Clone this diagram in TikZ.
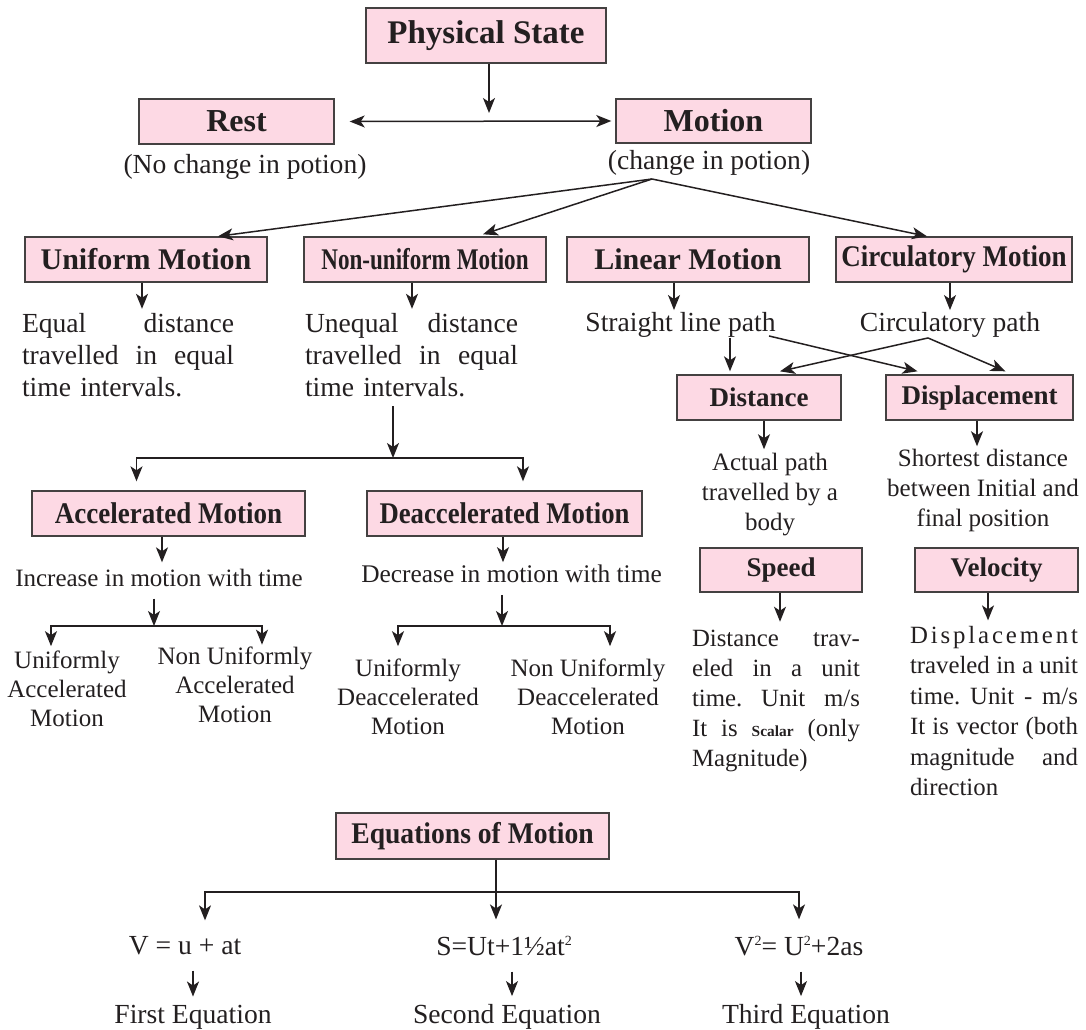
\documentclass[tikz,border=0pt]{standalone}
\usepackage{fontspec}
\setmainfont{Liberation Serif}
\usepackage{graphicx}
\usetikzlibrary{arrows.meta}
\definecolor{boxpink}{HTML}{FDD9E4}
\definecolor{ink}{HTML}{231F20}
\setlength{\parindent}{0pt}
\frenchspacing
\newcommand{\jl}[2]{\makebox[#1][s]{\spaceskip=0pt\xspaceskip=0pt #2}}
\newcommand{\nx}[2]{\scalebox{#1}[1]{#2}}
\newcommand{\fs}[2]{\fontsize{#1}{#2}\selectfont}
\newcommand{\sq}{\raisebox{0.85ex}{\fs{7}{8}2}}

\begin{document}
\begin{tikzpicture}[x=0.5pt,y=-0.5pt,
  box/.style={draw=ink!85, fill=boxpink, line width=0.7pt, inner sep=0pt, text=ink, font=\bfseries\fs{15}{18}},
  txt/.style={inner sep=0pt, text=ink, font=\fs{13.8}{16}},
  sml/.style={inner sep=0pt, text=ink, align=center, font=\fs{12.5}{15}},
  arr/.style={draw=ink, line width=0.75pt, -{Stealth[length=7.5pt,width=6pt,inset=2pt]}},
  darr/.style={draw=ink, line width=0.75pt, {Stealth[length=7.5pt,width=6pt,inset=2pt]}-{Stealth[length=7.5pt,width=6pt,inset=2pt]}}]

\useasboundingbox (0,0) rectangle (1086,1029);

\node[box, minimum width=120pt, minimum height=27.5pt, font=\bfseries\fs{16.5}{20}] (phys) at (486,35.5) {Physical State};
\node[box, minimum width=97.5pt, minimum height=22.5pt, font=\bfseries\fs{16}{19}] (rest) at (236.5,121.5) {Rest};
\node[box, minimum width=97.5pt, minimum height=22pt, font=\bfseries\fs{16}{19}] (motion) at (713.5,121) {Motion};
\node[txt] (restcap) at (245,167) {(No change in potion)};
\node[txt] (motcap) at (709,163) {(change in potion)};

\node[box, minimum width=121pt, minimum height=22.5pt] (unif) at (146,259.5) {Uniform Motion};
\node[box, minimum width=121pt, minimum height=22.5pt] (nonunif) at (425,259.5) {\nx{0.77}{Non-uniform Motion}};
\node[box, minimum width=121pt, minimum height=22.5pt] (linear) at (688,259.5) {Linear Motion};
\node[box, minimum width=118pt, minimum height=22.5pt] (circ) at (954,259.5) {\nx{0.9}{Circulatory Motion}};

\node[txt, text width=106pt, align=left] (eqtxt) at (128,355) {\jl{106pt}{Equal distance}\\\jl{106pt}{travelled in equal}\\time intervals.};
\node[txt, text width=106.5pt, align=left] (untxt) at (411.5,355) {\jl{106.5pt}{Unequal distance}\\\jl{106.5pt}{travelled in equal}\\time intervals.};
\node[txt] (strtxt) at (680.5,325) {Straight line path};
\node[txt] (circtxt) at (950,325) {Circulatory path};

\node[box, minimum width=82pt, minimum height=22.5pt, font=\bfseries\fs{13.5}{16}] (dist) at (759,397.5) {Distance};
\node[box, minimum width=93.5pt, minimum height=22.5pt, font=\bfseries\fs{13.5}{16}] (displ) at (979.5,397.5) {Displacement};
\node[sml] (disttxt) at (770,495) {Actual path\\travelled by a\\body};
\node[sml] (displtxt) at (983,490) {Shortest distance\\between Initial and\\final position};

\node[box, minimum width=81pt, minimum height=22pt, font=\bfseries\fs{13.5}{16}] (speed) at (781,570) {Speed};
\node[box, minimum width=81.5pt, minimum height=22pt, font=\bfseries\fs{13.5}{16}] (vel) at (996.5,570) {Velocity};
\node[sml, text width=84pt, align=left, font=\fs{12.4}{15}] (spdtxt) at (776,700.5) {\jl{84pt}{Distance trav-}\\\jl{84pt}{eled in a unit}\\\jl{84pt}{time. Unit m/s}\\\jl{84pt}{It is {\fs{7.7}{9}\bfseries Scalar} (only}\\Magnitude)};
\node[sml, text width=84pt, align=left, font=\fs{12.4}{15.2}] (veltxt) at (994,711) {\jl{84pt}{D\hfill i\hfill s\hfill p\hfill l\hfill a\hfill c\hfill e\hfill m\hfill e\hfill n\hfill t}\\\jl{84pt}{traveled in a unit}\\\jl{84pt}{time. Unit - m/s}\\\jl{84pt}{It is vector (both}\\\jl{84pt}{magnitude and}\\direction};

\node[box, minimum width=136.5pt, minimum height=22.5pt] (acc) at (168.5,513.5) {\nx{0.9}{Accelerated Motion}};
\node[box, minimum width=137.5pt, minimum height=22.5pt] (deacc) at (504.5,513.5) {\nx{0.89}{Deaccelerated Motion}};
\node[sml] (inctxt) at (159,577.5) {Increase in motion with time};
\node[sml, font=\fs{12.7}{15}] (dectxt) at (511.5,573.5) {Decrease in motion with time};
\node[sml, font=\fs{12.5}{14.5}] (ua) at (67,688.5) {Uniformly\\Accelerated\\Motion};
\node[sml, font=\fs{12.5}{14.5}] (nua) at (235,685) {Non Uniformly\\Accelerated\\Motion};
\node[sml, font=\fs{12.5}{14.5}] (ud) at (408,696.5) {Uniformly\\Deaccelerated\\Motion};
\node[sml, font=\fs{12.5}{14.5}] (nud) at (588,696.5) {Non Uniformly\\Deaccelerated\\Motion};

\node[box, minimum width=136.5pt, minimum height=23pt] (eqn) at (472.5,836) {\nx{0.92}{Equations of Motion}};
\node[txt] (eq1) at (185,946) {V = u + at};
\node[txt] (eq2) at (504,946) {S=Ut+1½at\sq};
\node[txt] (eq3) at (799,946) {V\sq= U\sq+2as};
\node[txt] (n1) at (193,1017) {First Equation};
\node[txt] (n2) at (507,1017) {Second Equation};
\node[txt] (n3) at (806,1017) {Third Equation};

\coordinate (hub) at (489,113);
\coordinate (fan) at (652,179);
\coordinate (split) at (393,458);
\coordinate (accsplit) at (154,626);
\coordinate (decsplit) at (502,626);
\coordinate (eqsplit) at (496,892);

\draw[arr] (phys.south -| hub) -- (hub);
\draw[darr] ([xshift=7.5pt]rest.east) -- ([xshift=-2pt]motion.west);
\draw[arr] (fan) -- ([xshift=36pt]unif.north);
\draw[arr] (fan) -- ([xshift=29pt,yshift=1pt]nonunif.north);
\draw[arr] (fan) -- ([xshift=-13.5pt]circ.north);

\draw[arr] ([xshift=-2pt]unif.south) -- ([xshift=-2pt,yshift=2pt]unif.south |- eqtxt.north);
\draw[arr] ([xshift=-6.5pt]nonunif.south) -- ([xshift=-6.5pt,yshift=2pt]nonunif.south |- untxt.north);
\draw[arr] ([xshift=-7pt]linear.south) -- ([xshift=-7pt,yshift=1pt]linear.south |- strtxt.north);
\draw[arr] ([xshift=-2pt]circ.south) -- ([xshift=-2pt,yshift=1pt]circ.south |- circtxt.north);

\draw[arr] ([xshift=-14.5pt]dist.north |- strtxt.south) -- ([xshift=-14.5pt,yshift=1.5pt]dist.north);
\draw[arr] ([xshift=-3.5pt,yshift=1pt]strtxt.south east) -- ([xshift=-31pt,yshift=1.5pt]displ.north);
\draw[arr] ([xshift=-11pt]circtxt.south) -- ([xshift=10.5pt,yshift=1.5pt]dist.north);
\draw[arr] ([xshift=-11pt]circtxt.south) -- ([xshift=13pt,yshift=1.5pt]displ.north);

\draw[arr] ([xshift=2.5pt]dist.south) -- ([xshift=2.5pt,yshift=2pt]dist.south |- disttxt.north);
\draw[arr] ([xshift=-1.25pt]displ.south) -- ([xshift=-1.25pt,yshift=1pt]displ.south |- displtxt.north);
\draw[arr] ([xshift=-0.5pt]speed.south) -- ([xshift=-0.5pt,yshift=3.75pt]speed.south |- spdtxt.north);
\draw[arr] ([xshift=-4.25pt]vel.south) -- ([xshift=-4.25pt,yshift=2.75pt]vel.south |- veltxt.north);

\draw[arr] ([yshift=-4.5pt]untxt.south -| split) -- (split);
\draw[arr] (split) -| ([xshift=-16pt,yshift=4.5pt]acc.north);
\draw[arr] (split) -| ([xshift=9.25pt,yshift=4.5pt]deacc.north);

\draw[arr] ([xshift=-3.25pt]acc.south) -- ([xshift=-3.25pt,yshift=3pt]acc.south |- inctxt.north);
\draw[arr] ([xshift=-0.75pt]deacc.south) -- ([xshift=-0.75pt,yshift=1pt]deacc.south |- dectxt.north);
\draw[arr] ([yshift=-6pt]inctxt.south -| accsplit) -- (accsplit);
\draw[arr] (accsplit) -| ([xshift=-8pt,yshift=2pt]ua.north);
\draw[arr] (accsplit) -| ([xshift=13.5pt,yshift=1pt]nua.north);
\draw[arr] ([yshift=-6pt]dectxt.south -| decsplit) -- (decsplit);
\draw[arr] (decsplit) -| ([xshift=-5pt,yshift=6pt]ud.north);
\draw[arr] (decsplit) -| ([xshift=11pt,yshift=6pt]nud.north);

\draw[line width=0.75pt, draw=ink] (eqn.south -| eqsplit) -- (eqsplit);
\draw[arr] (eqsplit) -- ([yshift=8pt]eq2.north -| eqsplit);
\draw[arr] (eqsplit) -| ([xshift=10pt,yshift=8pt]eq1.north);
\draw[arr] (eqsplit) -| ([yshift=8pt]eq3.north);

\draw[arr] ([yshift=-7.5pt]eq1.south -| n1.north) -- ([yshift=4pt]n1.north);
\draw[arr] ([xshift=2.5pt,yshift=-7.5pt]eq2.south -| n2.north) -- ([xshift=2.5pt,yshift=4pt]n2.north);
\draw[arr] ([xshift=-2.5pt,yshift=-7.5pt]eq3.south -| n3.north) -- ([xshift=-2.5pt,yshift=4pt]n3.north);
\end{tikzpicture}
\end{document}
